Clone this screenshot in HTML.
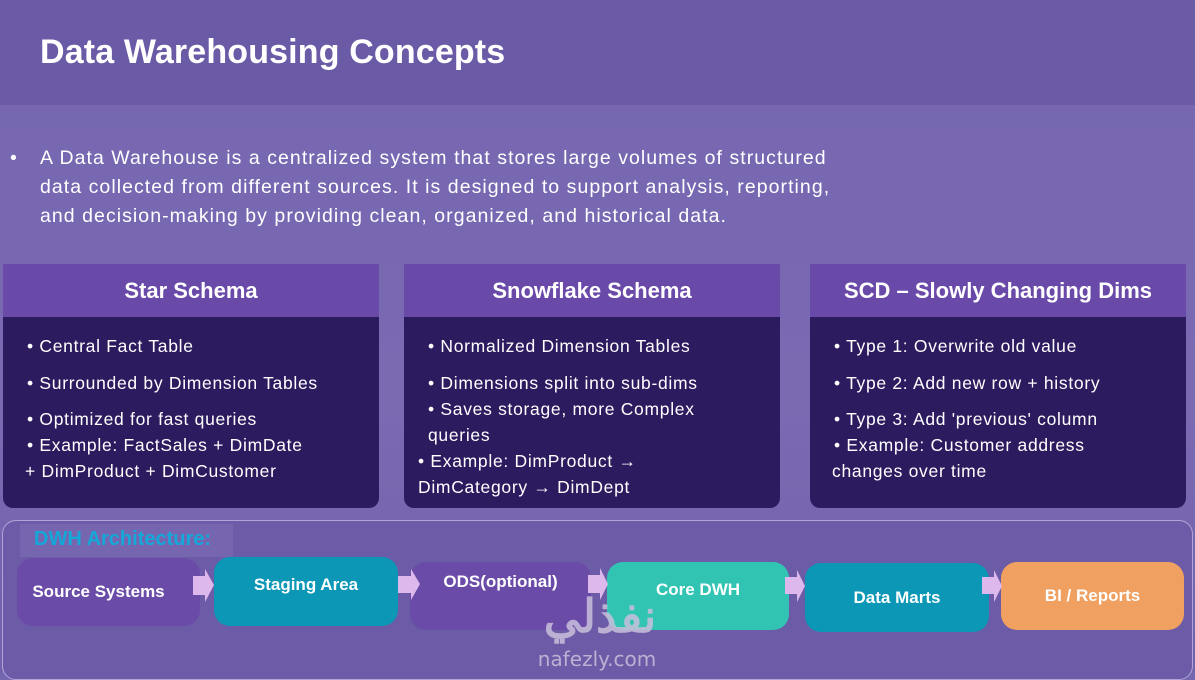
<!DOCTYPE html>
<html><head><meta charset="utf-8"><style>
*{margin:0;padding:0;box-sizing:border-box}
body{width:1195px;height:672px;overflow:hidden;position:relative;font-family:"Liberation Sans",sans-serif;background:linear-gradient(180deg,#7566b0 0%,#7a6ab2 60%,#7262ad 100%);color:#fff}
.hdr{position:absolute;left:0;top:0;width:1195px;height:105px;background:#6b5aa6}
.hdr h1{position:absolute;left:40px;top:33px;font-size:34px;font-weight:bold;letter-spacing:0.15px}
.intro{position:absolute;left:40px;top:144px;width:820px;font-size:19.5px;line-height:29px;color:#fff;letter-spacing:1.05px}
.intro:before{content:"•";position:absolute;left:-30px}
.card{position:absolute;top:264px;width:376px;height:244px;border-radius:0 0 10px 10px;background:#2d1b5f;overflow:hidden}
.card .t{height:53px;background:#6a4aa9;text-align:center;font-weight:bold;font-size:22px;line-height:53px}
.card .b{padding:16px 0 0 24px;font-size:17.5px;line-height:26px;letter-spacing:0.7px}
.panel{position:absolute;left:2px;top:520px;width:1191px;height:160px;border:1px solid #b0a4d8;border-radius:14px;background:#6c5ba6}
.lbl{position:absolute;left:20px;top:524px;width:213px;height:33px;background:#7666b0;color:#14a8d8;font-weight:bold;font-size:20px;padding:4px 0 0 14px}
.bx{position:absolute;border-radius:16px;color:#fff;font-weight:bold;font-size:17px;display:flex;align-items:center;justify-content:center}
</style></head><body>
<div class="hdr"><h1>Data Warehousing Concepts</h1></div>
<div class="intro">A Data Warehouse is a centralized system that stores large volumes of structured data collected from different sources. It is designed to support analysis, reporting, and decision-making by providing clean, organized, and historical data.</div>

<div class="card" style="left:3px"><div class="t">Star Schema</div><div class="b">
<div style="margin-bottom:11px">• Central Fact Table</div>
<div style="margin-bottom:10px">• Surrounded by Dimension Tables</div>
<div>• Optimized for fast queries</div>
<div>• Example: FactSales + DimDate</div>
<div style="margin-left:-2px">+ DimProduct + DimCustomer</div></div></div>

<div class="card" style="left:404px"><div class="t">Snowflake Schema</div><div class="b">
<div style="margin-bottom:11px">• Normalized Dimension Tables</div>
<div>• Dimensions split into sub-dims</div>
<div>• Saves storage, more Complex</div>
<div>queries</div>
<div style="margin-left:-10px">• Example: DimProduct →</div>
<div style="margin-left:-10px">DimCategory → DimDept</div></div></div>

<div class="card" style="left:810px"><div class="t">SCD – Slowly Changing Dims</div><div class="b">
<div style="margin-bottom:11px">• Type 1: Overwrite old value</div>
<div style="margin-bottom:10px">• Type 2: Add new row + history</div>
<div>• Type 3: Add 'previous' column</div>
<div>• Example: Customer address</div>
<div style="margin-left:-2px">changes over time</div></div></div>

<div class="panel"></div>
<div class="lbl">DWH Architecture:</div>

<div class="bx" style="left:17px;top:558px;width:183px;height:68px;background:#6a4ba8;padding-right:20px">Source Systems</div>
<div class="bx" style="left:214px;top:557px;width:184px;height:69px;background:#0b97b5;align-items:flex-start;padding-top:18px">Staging Area</div>
<div class="bx" style="left:410px;top:562px;width:181px;height:68px;background:#6a4ba8;align-items:flex-start;padding-top:10px">ODS(optional)</div>
<div class="bx" style="left:607px;top:562px;width:182px;height:68px;background:#31c4b3;align-items:flex-start;padding-top:18px">Core DWH</div>
<div class="bx" style="left:805px;top:563px;width:184px;height:69px;background:#0b97b5">Data Marts</div>
<div class="bx" style="left:1001px;top:562px;width:183px;height:68px;background:#f0a060">BI / Reports</div>

<svg width="1195" height="672" style="position:absolute;left:0;top:0">
<g fill="#dcb8ec">
<polygon points="193,576 205,576 205,569 214,585 205,602 205,595 193,595"/>
<polygon points="398,576 411,576 411,569 420,584 411,600 411,593 398,593"/>
<polygon points="588,575 600,575 600,568 608,584 600,600 600,593 588,593"/>
<polygon points="785,577 797,577 797,570 805,586 797,602 797,594 785,594"/>
<polygon points="982,577 994,577 994,570 1002,586 994,602 994,594 982,594"/>
</g>
<text x="600" y="632" text-anchor="middle" font-family="'Noto Sans CJK SC',sans-serif" font-size="46" font-weight="bold" fill="#c8c0dc" opacity="0.85">نفذلي</text>
<text x="597" y="666" text-anchor="middle" font-family="'DejaVu Sans',sans-serif" font-size="20" fill="#c8c0dc" opacity="0.85">nafezly.com</text>
</svg>
</body></html>
